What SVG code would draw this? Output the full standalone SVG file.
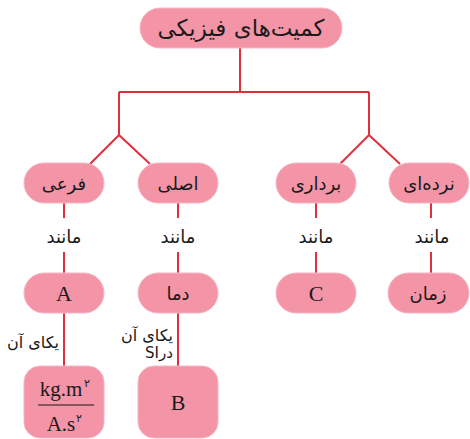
<svg xmlns="http://www.w3.org/2000/svg" width="470" height="439" viewBox="0 0 470 439">
<style>
.n{fill:#f394a7;stroke:#f7b6c3;stroke-width:1}
.fa{font-family:"DejaVu Sans",sans-serif;font-size:18px;fill:#1a1a1a;text-anchor:middle}
.la{font-family:"Liberation Serif",serif;font-size:22px;fill:#1a1a1a;text-anchor:middle}
.c{stroke:#e0303d;stroke-width:2;fill:none}
.sp{font-family:"DejaVu Sans",sans-serif;font-size:11px;fill:#1a1a1a}
</style>
<rect width="470" height="439" fill="#fff"/>
<g id="connectors">
<path class="c" d="M240 48V92M119 92H369M119 92V135M369 92V135M119 135L90 164M119 135L150 164M369 135L340 164M369 135L400 164"/>
<path class="c" d="M64 203V218M64 252V273M178 203V218M178 252V273M316 203V218M316 252V273M431 203V218M431 252V273M64 313V366M178 313V366"/>
</g>
<g id="n-root"><rect class="n" x="140" y="8" width="202" height="40" rx="20"/><text class="fa" x="241" y="36" style="font-size:23px" direction="rtl">کمیت‌های فیزیکی</text></g>
<g id="n-far"><rect class="n" x="24" y="163" width="80" height="40" rx="20"/><text class="fa" x="64" y="190">فرعی</text></g>
<g id="n-asl"><rect class="n" x="138" y="163" width="80" height="40" rx="20"/><text class="fa" x="178" y="190">اصلی</text></g>
<g id="n-bor"><rect class="n" x="276" y="163" width="80" height="40" rx="20"/><text class="fa" x="316" y="190">برداری</text></g>
<g id="n-nar"><rect class="n" x="389" y="163" width="80" height="40" rx="20"/><text class="fa" x="429" y="190" direction="rtl">نرده‌ای</text></g>
<g id="t-like">
<text class="fa" x="64" y="243">مانند</text>
<text class="fa" x="178" y="243">مانند</text>
<text class="fa" x="316" y="243">مانند</text>
<text class="fa" x="432" y="243">مانند</text>
</g>
<g id="n-A"><rect class="n" x="24" y="273" width="80" height="40" rx="20"/><text class="la" x="64" y="301">A</text></g>
<g id="n-dama"><rect class="n" x="138" y="273" width="80" height="40" rx="20"/><text class="fa" x="178" y="300">دما</text></g>
<g id="n-C"><rect class="n" x="276" y="273" width="80" height="40" rx="20"/><text class="la" x="316" y="301">C</text></g>
<g id="n-zaman"><rect class="n" x="388" y="273" width="81" height="40" rx="20"/><text class="fa" x="428" y="300">زمان</text></g>
<g id="t-unit">
<text class="fa" x="33" y="348" style="font-size:16px">یکای آن</text>
<text class="fa" x="147" y="341" style="font-size:16px">یکای آن</text>
<text class="fa" x="159" y="358" style="font-size:15px" direction="rtl" unicode-bidi="embed">درSI</text>
</g>
<g id="n-unit"><rect class="n" x="24" y="366" width="80" height="72" rx="16"/>
<text class="la" x="61" y="396" style="font-size:21px">kg.m</text><text class="sp" x="84" y="387">۲</text>
<line x1="38" y1="405" x2="94" y2="405" stroke="#1a1a1a" stroke-width="1.2"/>
<text class="la" x="61" y="431" style="font-size:21px">A.s</text><text class="sp" x="76" y="422">۲</text>
</g>
<g id="n-B"><rect class="n" x="138" y="366" width="80" height="72" rx="16"/><text class="la" x="178" y="410">B</text></g>
</svg>
